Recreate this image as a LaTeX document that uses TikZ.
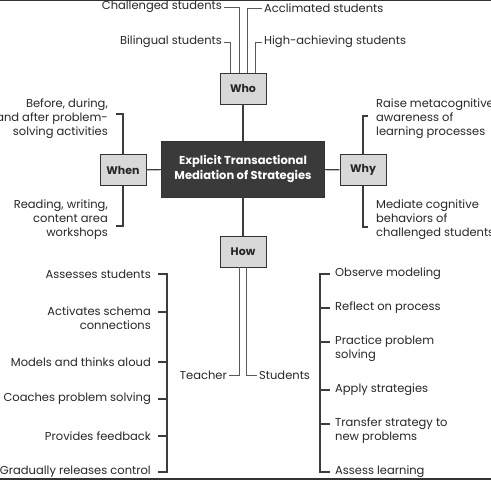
\documentclass[tikz,border=0pt]{standalone}
\usepackage{fontspec}
\setmainfont{Poppins}
\definecolor{linegray}{HTML}{3C3C3C}
\definecolor{fangray}{HTML}{5A5A5A}
\definecolor{boxfill}{HTML}{D8D8D8}
\definecolor{boxedge}{HTML}{333333}
\definecolor{mainfill}{HTML}{3A3A3A}
\definecolor{txt}{HTML}{262626}
\begin{document}
\begin{tikzpicture}[x=1pt,y=-1pt,
  conn/.style={draw=linegray, line width=1.1pt},
  fan/.style={draw=fangray, line width=1pt},
  box/.style={draw=boxedge, fill=boxfill, line width=0.9pt, minimum width=46pt, minimum height=31pt, inner sep=0pt, text=txt, font=\fontsize{11}{13}\selectfont\bfseries},
  mainbox/.style={draw=boxedge, fill=mainfill, line width=0.9pt, minimum width=163pt, minimum height=56pt, inner sep=0pt, text=white, align=center, font=\fontsize{11.5}{15}\selectfont\bfseries},
  lbl/.style={inner sep=2pt, text=txt, font=\fontsize{11.5}{14}\selectfont},
  lblr/.style={lbl, anchor=east, align=right},
  lbll/.style={lbl, anchor=west, align=left}]
\useasboundingbox (0,0) rectangle (491,480);
% frame lines at top and bottom
\draw[draw=boxedge, line width=1.5pt] (0,0.6) coordinate (tl) -- (491,0.6) coordinate (tr);
\draw[draw=boxedge, line width=2pt] (0,479) coordinate (bl) -- (491,479) coordinate (br);

% boxes
\node[mainbox] (main) at (243,169) {Explicit Transactional\\Mediation of Strategies};
\node[box] (who) at (243,88.5) {Who};
\node[box] (when) at (123,170) {When};
\node[box] (why) at (363,170) {Why};
\node[box] (how) at (243,251.5) {How};

\draw[conn] (who) -- (main);
\draw[conn] (when) -- (main);
\draw[conn] (main) -- (why);
\draw[conn] (main) -- (how);

% Who
\node[lblr] (chal) at (224,7) {Challenged students};
\node[lbll] (accl) at (262,8) {Acclimated students};
\node[lblr] (biling) at (224,42) {Bilingual students};
\node[lbll] (high) at (262,42) {High-achieving students};
\draw[fan] ([xshift=-13pt]who.north) |- (biling.east);
\draw[fan] ([xshift=-4pt]who.north) |- (chal.east);
\draw[fan] ([xshift=4pt]who.north) |- (accl.west);
\draw[fan] ([xshift=12pt]who.north) |- (high.west);

% When
\node[lblr] (before) at (110,119) {Before, during,\\and after problem-\\solving activities};
\node[lblr] (reading) at (110,220) {Reading, writing,\\content area\\workshops};
\draw[conn] (when.north) |- ([xshift=6pt,yshift=5pt]before.east);
\draw[conn] (when.south) |- ([xshift=6pt,yshift=-6pt]reading.east);

% Why
\node[lbll] (raise) at (374,119) {Raise metacognitive\\awareness of\\learning processes};
\node[lbll] (mediate) at (374,220) {Mediate cognitive\\behaviors of\\challenged students};
\draw[conn] (why.north) |- ([xshift=-6pt,yshift=3pt]raise.west);
\draw[conn] (why.south) |- ([xshift=-6pt,yshift=-7pt]mediate.west);

% How
\node[lblr] (teacher) at (229,375) {Teacher};
\node[lbll] (students) at (257,375) {Students};
\draw[fan] ([xshift=-4pt]how.south) |- (teacher.east);
\draw[fan] ([xshift=3pt]how.south) |- (students.west);

% Teacher items
\node[lblr] (t1) at (153,274) {Assesses students};
\node[lblr] (t2) at (153,318) {Activates schema\\connections};
\node[lblr] (t3) at (153,362) {Models and thinks aloud};
\node[lblr] (t4) at (153,399) {Coaches problem solving};
\node[lblr] (t5) at (153,436) {Provides feedback};
\node[lblr] (t6) at (153,472) {Gradually releases control};
\draw[conn] ([xshift=5pt]t1.east) -- ++(9,0) coordinate (tb) |- ([xshift=5pt]t6.east);
\draw[conn] ([xshift=5pt,yshift=6pt]t2.east) -- ([yshift=6pt]t2.east -| tb);
\draw[conn] ([xshift=5pt]t3.east) -- (t3.east -| tb);
\draw[conn] ([xshift=5pt]t4.east) -- (t4.east -| tb);
\draw[conn] ([xshift=5pt]t5.east) -- (t5.east -| tb);

% Student items
\node[lbll] (s1) at (333,274) {Observe modeling};
\node[lbll] (s2) at (333,308) {Reflect on process};
\node[lbll] (s3) at (333,349) {Practice problem\\solving};
\node[lbll] (s4) at (333,390) {Apply strategies};
\node[lbll] (s5) at (333,431) {Transfer strategy to\\new problems};
\node[lbll] (s6) at (333,472) {Assess learning};
\draw[conn] ([xshift=-3pt]s1.west) -- ++(-10,0) coordinate (sb) |- ([xshift=-3pt]s6.west);
\draw[conn] ([xshift=-3pt]s2.west) -- (s2.west -| sb);
\draw[conn] ([xshift=-3pt,yshift=7pt]s3.west) -- ([yshift=7pt]s3.west -| sb);
\draw[conn] ([xshift=-3pt]s4.west) -- (s4.west -| sb);
\draw[conn] ([xshift=-3pt,yshift=7pt]s5.west) -- ([yshift=7pt]s5.west -| sb);
\end{tikzpicture}
\end{document}
